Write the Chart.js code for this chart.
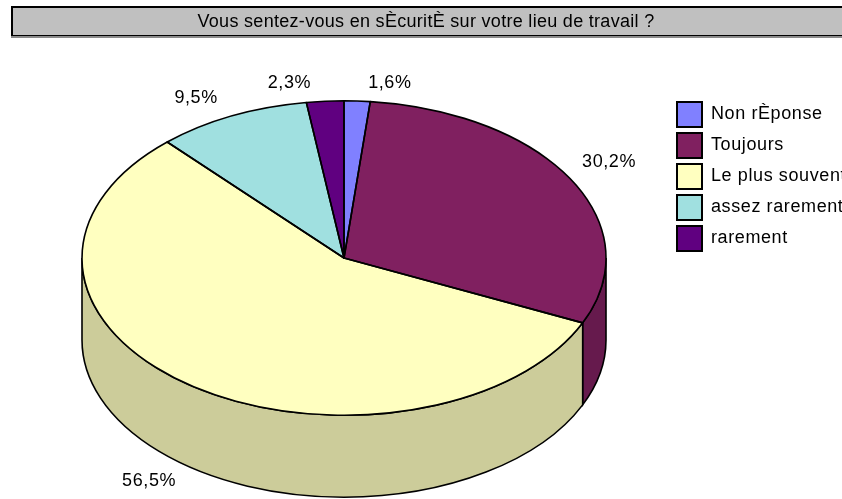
<!DOCTYPE html>
<html lang="fr">
<head>
    <meta charset="UTF-8">
    <title>Sécurité au travail</title>
    <script src="https://cdn.jsdelivr.net/npm/chart.js"></script>
    <style>
        body {
            margin: 0;
            background: #fff;
            overflow: hidden;
        }

        #wrap {
            position: relative;
            width: 842px;
            height: 499px;
        }

        #pie {
            position: absolute;
            left: 0;
            top: 0;
        }

        #titre {
            position: absolute;
            left: 11px;
            top: 6px;
            width: 840px;
            height: 27px;
            background: #c0c0c0;
            border-top: 2px solid #000;
            border-left: 2px solid #000;
            border-bottom: 1px solid #000;
            box-shadow: 0 2px 0 #8a8a8a;
            font: 18px "Liberation Sans", Arial, sans-serif;
            letter-spacing: 0.3px;
            line-height: 27px;
            text-align: center;
            text-indent: -14px;
            color: #000;
        }
    </style>
</head>
<body>
    <div id="wrap">
        <canvas id="pie" width="842" height="499"></canvas>
        <div id="titre">Vous sentez-vous en sÈcuritÈ sur votre lieu de travail ?</div>
    </div>

    <script>
        const categories = ["Non rÈponse", "Toujours", "Le plus souvent", "assez rarement", "rarement"];
        const percentages = [1.6, 30.2, 56.5, 9.5, 2.3];
        const topColors = ["#8080ff", "#802060", "#ffffc0", "#a0e0e0", "#600080"];
        const sideColors = ["#6666cc", "#661a4d", "#cccc9a", "#80b3b3", "#4d0066"];

        Chart.defaults.font.family = "'Liberation Sans', Arial, sans-serif";
        Chart.defaults.color = "#000";

        // faux 3D : les flancs sont dessinés avant, la face du dessus est écrasée en ellipse
        const pie3d = {
            id: "pie3d",
            geom(chart, opts) {
                const arcs = chart.getDatasetMeta(0).data;
                const r = arcs[0].outerRadius;
                return { arcs, cx: arcs[0].x, cy: arcs[0].y, r, ry: r * opts.tilt, depth: r * opts.depth };
            },
            beforeDraw(chart, args, opts) {
                chart.ctx.letterSpacing = opts.spacing;
            },
            beforeDatasetsDraw(chart, args, opts) {
                const ctx = chart.ctx;
                const { arcs, cx, cy, r, ry, depth } = this.geom(chart, opts);

                arcs.forEach((arc, i) => {
                    const a1 = Math.max(arc.startAngle, 0);
                    const a2 = Math.min(arc.endAngle, Math.PI);
                    if (a2 <= a1) return;
                    ctx.beginPath();
                    ctx.ellipse(cx, cy, r, ry, 0, a1, a2);
                    ctx.ellipse(cx, cy + depth, r, ry, 0, a2, a1, true);
                    ctx.closePath();
                    ctx.fillStyle = sideColors[i];
                    ctx.fill();
                    ctx.lineWidth = opts.line;
                    ctx.strokeStyle = "#000";
                    ctx.stroke();
                });

                ctx.save();
                ctx.translate(cx, cy);
                ctx.scale(1, opts.tilt);
                ctx.translate(-cx, -cy);
            },
            afterDatasetsDraw(chart, args, opts) {
                const ctx = chart.ctx;
                ctx.restore();
                const { arcs, cx, cy, r, ry, depth } = this.geom(chart, opts);

                ctx.lineWidth = opts.line;
                ctx.strokeStyle = "#000";
                ctx.lineJoin = "round";
                arcs.forEach(arc => {
                    ctx.beginPath();
                    ctx.moveTo(cx, cy);
                    ctx.ellipse(cx, cy, r, ry, 0, arc.startAngle, arc.endAngle);
                    ctx.closePath();
                    ctx.stroke();
                });

                ctx.font = "18px 'Liberation Sans', Arial, sans-serif";
                ctx.fillStyle = "#000";
                ctx.textBaseline = "alphabetic";
                arcs.forEach((arc, i) => {
                    const mid = (arc.startAngle + arc.endAngle) / 2;
                    const c = Math.cos(mid), s = Math.sin(mid);
                    const ex = cx + r * c;
                    const ey = cy + ry * s + (s > 0 ? depth : 0);
                    ctx.textAlign = c >= 0 ? "left" : "right";
                    const x = ex + (c >= 0 ? 11 : -14);
                    const y = s < 0 ? ey - 13 : ey + 19;
                    ctx.fillText(percentages[i].toFixed(1).replace(".", ",") + "%", x, y);
                });
            }
        };

        new Chart(document.getElementById("pie"), {
            type: "pie",
            data: {
                labels: categories,
                datasets: [{
                    data: percentages,
                    backgroundColor: topColors,
                    borderWidth: 0,
                    radius: 262,
                    clip: false
                }]
            },
            plugins: [pie3d],
            options: {
                responsive: false,
                animation: false,
                events: [],
                layout: { padding: { top: 96, bottom: 79, left: 17, right: 0 } },
                plugins: {
                    pie3d: { tilt: 0.6, depth: 0.313, line: 1.6, spacing: "0.6px" },
                    tooltip: { enabled: false },
                    legend: {
                        position: "right",
                        align: "start",
                        maxWidth: 171,
                        labels: {
                            boxWidth: 25,
                            boxHeight: 25,
                            padding: 6,
                            color: "#000",
                            font: { size: 18 },
                            generateLabels(chart) {
                                const items = Chart.overrides.pie.plugins.legend.labels.generateLabels(chart);
                                items.forEach(it => { it.lineWidth = 2; it.strokeStyle = "#000"; });
                                return items;
                            }
                        }
                    }
                }
            }
        });
    </script>
</body>
</html>
